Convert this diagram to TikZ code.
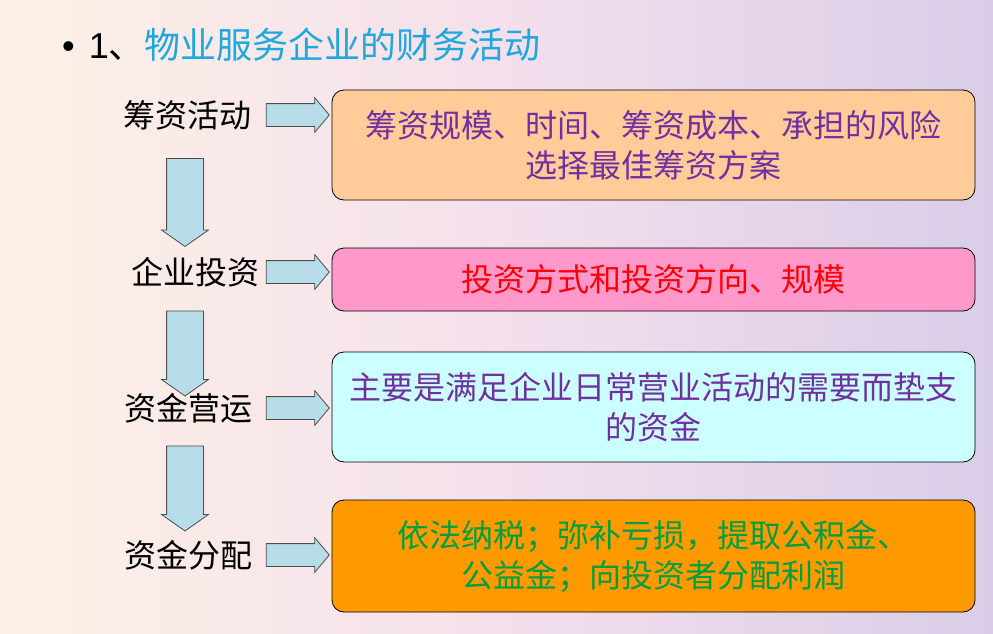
\documentclass[tikz,border=0pt]{standalone}
\usepackage{fontspec}
\setmainfont{Noto Sans CJK SC}
\newfontfamily\latinf{Liberation Sans}
\usetikzlibrary{shapes.arrows}
\definecolor{bgl}{HTML}{FDF1E6}
\definecolor{bgm}{HTML}{F4E0EC}
\definecolor{bgr}{HTML}{D9CDE8}
\definecolor{titlec}{HTML}{1EA8DC}
\definecolor{arrc}{HTML}{B7DEE8}
\definecolor{purp}{HTML}{7030A0}
\definecolor{grn}{HTML}{00A040}
\tikzset{
  box/.style={draw=black, rounded corners=12pt, line width=0.8pt, align=center, font=\fontsize{32}{40}\selectfont, inner sep=0pt},
  lab/.style={font=\fontsize{32}{36}\selectfont, inner sep=0pt},
  rarr/.style={single arrow, draw=black!70, fill=arrc, line width=0.8pt, minimum height=63pt, inner sep=11pt, single arrow head extend=6pt, single arrow tip angle=100},
  darr/.style={single arrow, draw=black!70, fill=arrc, line width=0.8pt, inner sep=18pt, single arrow head extend=5pt, shape border rotate=270, single arrow tip angle=110}
}
\begin{document}
\begin{tikzpicture}[x=1pt,y=-1pt]
\shade[left color=bgl, right color=bgr, middle color=bgm] (0,0) rectangle (993,634);
\useasboundingbox (0,0) rectangle (993,634);
\node[anchor=west, inner sep=0pt, font=\fontsize{36}{40}\selectfont] (title) at (62,45) {{\latinf •\hspace{14pt}1}、\textcolor{titlec}{物业服务企业的财务活动}};
\node[box, fill={rgb,255:red,255;green,204;blue,153}, text=purp, minimum width=643pt, minimum height=110pt] (b1) at (653.5,145) {筹资规模、时间、筹资成本、承担的风险\\选择最佳筹资方案};
\node[box, fill={rgb,255:red,255;green,153;blue,204}, text=red, minimum width=643pt, minimum height=63pt] (b2) at (653.5,279.5) {投资方式和投资方向、规模};
\node[box, fill={rgb,255:red,204;green,255;blue,255}, text=purp, minimum width=643pt, minimum height=110pt] (b3) at (653.5,407) {主要是满足企业日常营业活动的需要而垫支\\的资金};
\node[box, fill={rgb,255:red,255;green,153;blue,0}, text=grn, minimum width=643pt, minimum height=112pt] (b4) at (653.5,556) {依法纳税；弥补亏损，提取公积金、\\公益金；向投资者分配利润};
\node[lab] (l1) at (187,115) {筹资活动};
\node[lab] (l2) at (195,272) {企业投资};
\node[lab] (l3) at (188,408) {资金营运};
\node[lab] (l4) at (188,555) {资金分配};
\node[rarr] (r1) at (293,115) {};
\node[rarr] (r2) at (293,272) {};
\node[rarr] (r3) at (293,408) {};
\node[rarr] (r4) at (293,555) {};
\node[darr, minimum height=88pt] (d1) at (185,196) {};
\node[darr, minimum height=85pt] (d2) at (185,347) {};
\node[darr, minimum height=85pt] (d3) at (185,482) {};
\end{tikzpicture}
\end{document}
